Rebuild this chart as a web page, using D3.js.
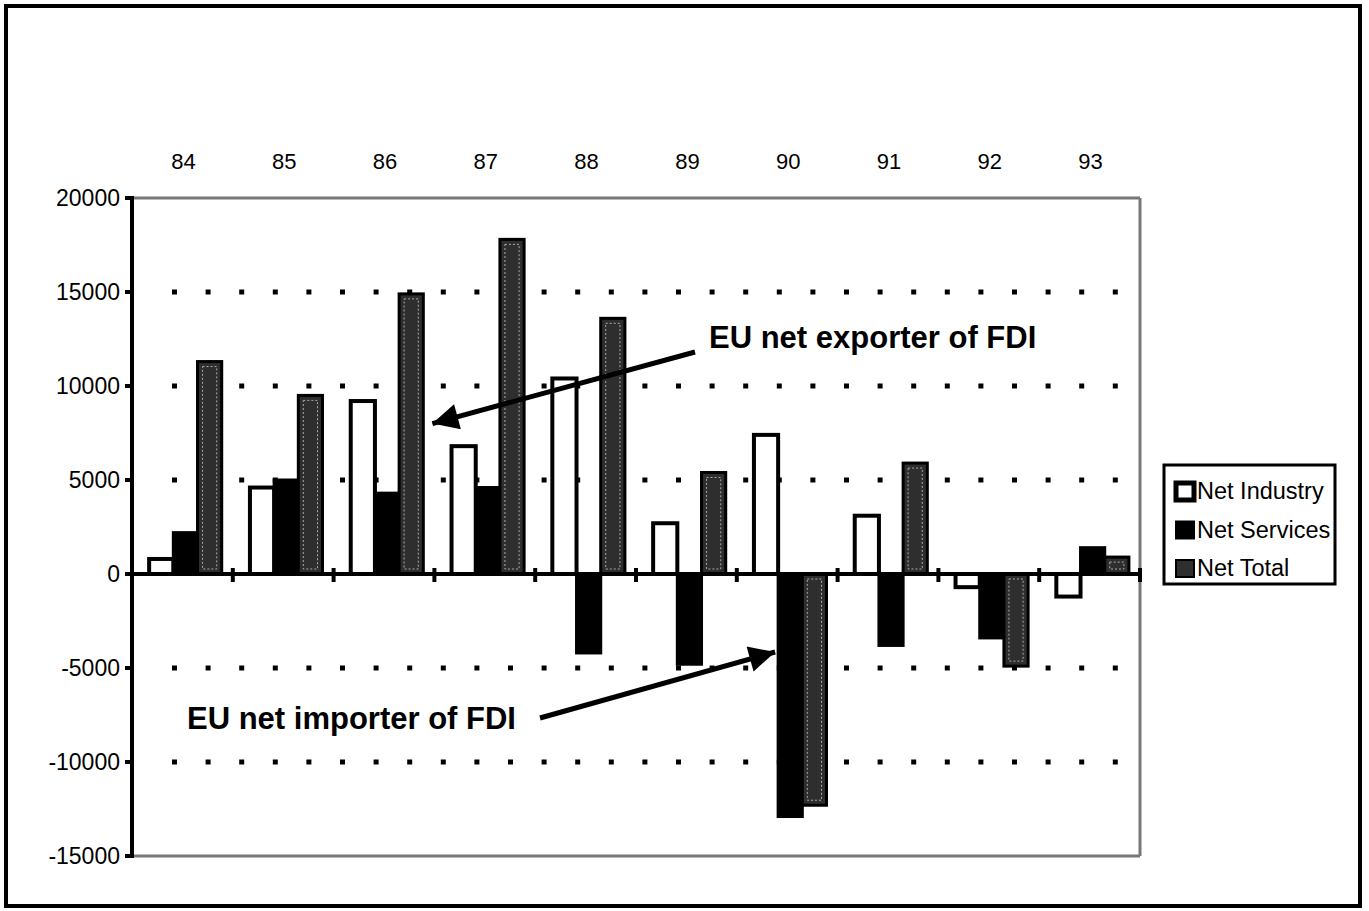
<!DOCTYPE html>
<html><head><meta charset="utf-8">
<script src="https://cdn.jsdelivr.net/npm/d3@7"></script>
<style>
html,body{margin:0;padding:0;background:#fff;}
svg text{font-family:"Liberation Sans",Arial,Helvetica,sans-serif;}
</style></head>
<body>
<svg id="chart" width="1369" height="911"></svg>
<script>
const categories = ["84","85","86","87","88","89","90","91","92","93"];
const seriesNames = ["Net Industry","Net Services","Net Total"];
const netIndustry = [800, 4600, 9200, 6800, 10400, 2700, 7400, 3100, -700, -1200];
const netServices = [2200, 5000, 4300, 4600, -4200, -4800, -12900, -3800, -3400, 1400];
const netTotal    = [11300, 9500, 14900, 17800, 13600, 5400, -12300, 5900, -4900, 900];
const yTicks = [20000, 15000, 10000, 5000, 0, -5000, -10000, -15000];
const gridValues = [15000, 10000, 5000, -5000, -10000];

const seriesData = [netIndustry, netServices, netTotal];
const svg = d3.select("#chart");

// outer frame
svg.append("rect").attr("x",6).attr("y",6).attr("width",1354).attr("height",900)
  .attr("fill","none").attr("stroke","#000").attr("stroke-width",4);

const L=132, R=1140, T=198, B=856;
const y = d3.scaleLinear().domain([-15000,20000]).range([B,T]);
const x0 = d3.scaleBand().domain(categories).range([L,R]).paddingInner(0).paddingOuter(0);
const bw = x0.bandwidth();
const x1 = d3.scaleBand().domain(seriesNames).range([bw*0.17, bw*0.89]).padding(0);

// plot area border (gray top/right/bottom)
svg.append("line").attr("x1",L).attr("x2",R).attr("y1",T).attr("y2",T).attr("stroke","#777").attr("stroke-width",3);
svg.append("line").attr("x1",R).attr("x2",R).attr("y1",T).attr("y2",B).attr("stroke","#777").attr("stroke-width",3);
svg.append("line").attr("x1",L).attr("x2",R).attr("y1",B).attr("y2",B).attr("stroke","#777").attr("stroke-width",3);

// dotted gridlines
svg.append("g").selectAll("line").data(gridValues).join("line")
  .attr("x1",L+40).attr("x2",R).attr("y1",d=>y(d)).attr("y2",d=>y(d))
  .attr("stroke","#000").attr("stroke-width",5).attr("stroke-dasharray","5,28.6");

// bars
const groups = svg.append("g").selectAll("g").data(categories).join("g")
  .attr("transform",c=>`translate(${x0(c)},0)`);
seriesNames.forEach((s,si)=>{
  groups.append("rect")
    .attr("x",x1(s)).attr("width",x1.bandwidth())
    .attr("y",(c,i)=>y(Math.max(0,seriesData[si][i])))
    .attr("height",(c,i)=>Math.abs(y(seriesData[si][i])-y(0)))
    .attr("fill", si===0?"#fff":(si===1?"#000":"#2e2e2e"))
    .attr("stroke","#000").attr("stroke-width",si===0?4:3);
  if(si===2){
    groups.append("rect")
      .attr("x",x1(s)+5).attr("width",x1.bandwidth()-10)
      .attr("y",(c,i)=>y(Math.max(0,seriesData[si][i]))+5)
      .attr("height",(c,i)=>Math.max(0,Math.abs(y(seriesData[si][i])-y(0))-10))
      .attr("fill","none").attr("stroke","#aaa").attr("stroke-width",1).attr("stroke-dasharray","2,2");
  }
});

// left axis
svg.append("line").attr("x1",L).attr("x2",L).attr("y1",T-2).attr("y2",B+2).attr("stroke","#000").attr("stroke-width",4);
svg.append("g").selectAll("line").data(yTicks).join("line")
  .attr("x1",L-7).attr("x2",L).attr("y1",d=>y(d)).attr("y2",d=>y(d)).attr("stroke","#000").attr("stroke-width",4);
svg.append("g").selectAll("text").data(yTicks).join("text")
  .attr("x",L-12).attr("y",d=>y(d)+8).attr("text-anchor","end").attr("font-size",23).text(d=>d);

// zero line with ticks
svg.append("line").attr("x1",L).attr("x2",R).attr("y1",y(0)).attr("y2",y(0)).attr("stroke","#000").attr("stroke-width",4);
svg.append("g").selectAll("line").data(categories.slice(1).concat(["end"])).join("line")
  .attr("x1",(c,i)=>L+bw*(i+1)).attr("x2",(c,i)=>L+bw*(i+1))
  .attr("y1",y(0)-6).attr("y2",y(0)+8).attr("stroke","#000").attr("stroke-width",4);

// category labels at top
svg.append("g").selectAll("text").data(categories).join("text")
  .attr("x",c=>x0(c)+bw/2+1).attr("y",169).attr("text-anchor","middle").attr("font-size",22).text(c=>c);

// legend
const lg = svg.append("g");
lg.append("rect").attr("x",1164).attr("y",465).attr("width",171).attr("height",119)
  .attr("fill","#fff").attr("stroke","#000").attr("stroke-width",3);
seriesNames.forEach((s,i)=>{
  const yy = 491 + i*38.5;
  lg.append("rect").attr("x",1176).attr("y",yy-8).attr("width",18).attr("height",17)
    .attr("fill", i===0?"#fff":(i===1?"#000":"#2e2e2e")).attr("stroke","#000").attr("stroke-width",i===0?5:2);
  lg.append("text").attr("x",1197).attr("y",yy+8).attr("font-size",23.5).text(s);
});

// annotations
const defs = svg.append("defs");
defs.append("marker").attr("id","ah").attr("viewBox","0 0 10 10").attr("refX",10).attr("refY",5)
  .attr("markerUnits","userSpaceOnUse").attr("markerWidth",34).attr("markerHeight",26).attr("orient","auto")
  .append("path").attr("d","M0,0 L10,5 L0,10 Z").attr("fill","#000");

svg.append("text").attr("x",709).attr("y",348).attr("font-size",31).attr("font-weight","bold").text("EU net exporter of FDI");
svg.append("line").attr("x1",695).attr("y1",352).attr("x2",x0("86")+bw*0.98).attr("y2",y(8000))
  .attr("stroke","#000").attr("stroke-width",5).attr("marker-end","url(#ah)");

svg.append("text").attr("x",187).attr("y",729).attr("font-size",31).attr("font-weight","bold").text("EU net importer of FDI");
svg.append("line").attr("x1",540).attr("y1",718).attr("x2",x0("90")+bw*0.38).attr("y2",y(-4150))
  .attr("stroke","#000").attr("stroke-width",5).attr("marker-end","url(#ah)");
</script>
</body></html>
